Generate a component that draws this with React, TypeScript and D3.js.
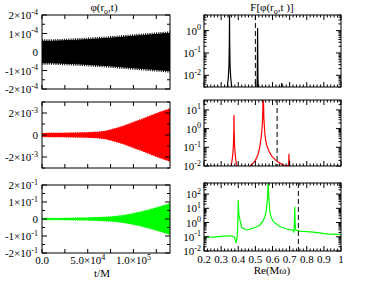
import React from 'react';
import * as d3 from 'd3';

const W = 366;
const H = 283;
const FONT = '"Liberation Serif", "Times New Roman", serif';

// time-domain envelopes (half amplitude of the oscillating band)
const times = [0, 1e4, 2e4, 3e4, 4e4, 5e4, 6e4, 7e4, 8e4, 9e4, 1e5, 1.1e5, 1.2e5, 1.3e5, 1.4e5];
const blackEnv = [0.58e-4, 0.58e-4, 0.6e-4, 0.62e-4, 0.64e-4, 0.67e-4, 0.7e-4, 0.73e-4, 0.77e-4, 0.81e-4, 0.85e-4, 0.89e-4, 0.93e-4, 0.97e-4, 1.01e-4];
const redEnv = [0.12e-3, 0.13e-3, 0.14e-3, 0.15e-3, 0.17e-3, 0.19e-3, 0.23e-3, 0.33e-3, 0.55e-3, 0.8e-3, 1.12e-3, 1.42e-3, 1.75e-3, 2.07e-3, 2.35e-3];
const greenEnv = [0.001, 0.0015, 0.002, 0.003, 0.004, 0.005, 0.007, 0.009, 0.013, 0.02, 0.03, 0.042, 0.056, 0.072, 0.088];

// spectra |F[phi]| vs Re(M omega)
const specBlackW = [0.2, 0.33, 0.335, 0.342, 0.346, 0.348, 0.349, 0.35, 0.352, 0.356, 0.363, 0.4, 0.5, 0.509, 0.511, 0.512, 0.513, 0.514, 0.515, 0.517, 0.6, 0.652, 0.654, 0.656, 0.7, 1.0];
const specBlackA = [0.001, 0.001, 0.0025, 0.008, 0.03, 0.3, 8, 0.3, 0.03, 0.008, 0.0025, 0.001, 0.001, 0.002, 0.01, 0.1, 1.3, 0.1, 0.01, 0.002, 0.001, 0.002, 0.0045, 0.002, 0.001, 0.001];
const specRedW = [0.2, 0.35, 0.355, 0.362, 0.368, 0.372, 0.374, 0.375, 0.376, 0.378, 0.382, 0.388, 0.395, 0.44, 0.46, 0.48, 0.5, 0.515, 0.525, 0.533, 0.538, 0.542, 0.545, 0.546, 0.547, 0.55, 0.555, 0.56, 0.566, 0.58, 0.595, 0.605, 0.62, 0.635, 0.65, 0.67, 0.69, 0.694, 0.695, 0.696, 0.697, 0.698, 0.71, 0.75, 1.0];
const specRedA = [0.005, 0.006, 0.008, 0.015, 0.04, 0.15, 0.8, 5.4, 0.8, 0.15, 0.04, 0.015, 0.008, 0.006, 0.009, 0.012, 0.02, 0.04, 0.09, 0.3, 0.8, 3, 40, 100, 40, 3, 0.6, 0.25, 0.13, 0.06, 0.035, 0.027, 0.02, 0.016, 0.013, 0.011, 0.0105, 0.011, 0.02, 0.045, 0.02, 0.011, 0.009, 0.008, 0.006];
const specGreenW = [0.2, 0.25, 0.3, 0.34, 0.36, 0.375, 0.382, 0.387, 0.39, 0.394, 0.397, 0.399, 0.4, 0.403, 0.41, 0.42, 0.449, 0.488, 0.527, 0.545, 0.556, 0.565, 0.572, 0.575, 0.578, 0.585, 0.595, 0.605, 0.644, 0.683, 0.721, 0.725, 0.728, 0.73, 0.732, 0.735, 0.76, 0.838, 0.916, 1.0];
const specGreenA = [0.09, 0.095, 0.105, 0.115, 0.115, 0.1, 0.07, 0.037, 0.05, 0.12, 0.5, 5, 40, 4, 1.5, 0.45, 0.3, 0.4, 0.68, 1.3, 2.6, 10, 80, 1000, 80, 4.7, 2, 1.16, 0.5, 0.35, 0.29, 0.2, 1.5, 13, 1.2, 0.3, 0.25, 0.21, 0.16, 0.14];

const dashedLines = [0.5, 0.627, 0.751];

const leftX: [number, number] = [42, 170];
const rightX: [number, number] = [204, 341];
const rowsLeft: [number, number][] = [[15, 89], [102, 168], [185, 253]];
const rowsRight: [number, number][] = [[15, 87], [100, 166], [183, 251]];

const supLabel = (base: string, exp: string | null) => (
  <>
    {base}
    {exp !== null && <tspan dy={-4.5} fontSize={8}>{exp}</tspan>}
  </>
);

const sciParts = (v: number): [string, string | null] => {
  if (v === 0) return ['0', null];
  const e = Math.floor(Math.log10(Math.abs(v)) + 1e-9);
  const m = Math.round(v / Math.pow(10, e));
  return [`${m}×10`, `${e}`];
};

type TimeProps = {
  row: [number, number];
  env: number[];
  color: string;
  maxAbs: number;
  majors: number[];
  minors: number[];
  showX: boolean;
  fringe: number;
  id: string;
};

const TimePanel = ({ row, env, color, maxAbs, majors, minors, showX, fringe, id }: TimeProps) => {
  const x = d3.scaleLinear().domain([0, 1.4e5]).range(leftX);
  const y = d3.scaleLinear().domain([-maxAbs, maxAbs]).range([row[1], row[0]]);
  const area = d3.area<number>()
    .x((_, i) => x(times[i]))
    .y0(d => y(-d))
    .y1(d => y(d))
    .curve(d3.curveMonotoneX);
  const xTicks = [0, 2.5e4, 5e4, 7.5e4, 1e5, 1.25e5];
  const xLabels: [number, string, string | null][] = [[0, '0.0', null], [5e4, '5.0×10', '4'], [1e5, '1.0×10', '5']];
  return (
    <g>
      <clipPath id={id}>
        <rect x={leftX[0]} y={row[0]} width={leftX[1] - leftX[0]} height={row[1] - row[0]} />
      </clipPath>
      <g clipPath={`url(#${id})`}>
        {/* serrated outline gives the band its ragged oscillation edge */}
        <path d={area(env) ?? ''} fill="none" stroke={color} strokeWidth={fringe} strokeDasharray="1,1.2" />
        <path d={area(env) ?? ''} fill={color} stroke={color} strokeWidth={1} />
      </g>
      <rect x={leftX[0]} y={row[0]} width={leftX[1] - leftX[0]} height={row[1] - row[0]} fill="none" stroke="#000" strokeWidth={1} />
      {xTicks.map(t => (
        <g key={t}>
          <line x1={x(t)} x2={x(t)} y1={row[1]} y2={row[1] - 4} stroke="#000" />
          <line x1={x(t)} x2={x(t)} y1={row[0]} y2={row[0] + 4} stroke="#000" />
        </g>
      ))}
      {majors.map(v => (
        <g key={'M' + v}>
          <line x1={leftX[0]} x2={leftX[0] + 5} y1={y(v)} y2={y(v)} stroke="#000" />
          <line x1={leftX[1]} x2={leftX[1] - 5} y1={y(v)} y2={y(v)} stroke="#000" />
          <text x={38} y={y(v) + 4} textAnchor="end" fontSize={11}>
            {supLabel(...sciParts(v))}
          </text>
        </g>
      ))}
      {minors.map(v => (
        <g key={'m' + v}>
          <line x1={leftX[0]} x2={leftX[0] + 3} y1={y(v)} y2={y(v)} stroke="#000" />
          <line x1={leftX[1]} x2={leftX[1] - 3} y1={y(v)} y2={y(v)} stroke="#000" />
        </g>
      ))}
      {showX && xLabels.map(([t, b, e]) => (
        <text key={t} x={x(t)} y={row[1] + 11} textAnchor="middle" fontSize={11}>
          {supLabel(b, e)}
        </text>
      ))}
    </g>
  );
};

type SpecProps = {
  row: [number, number];
  w: number[];
  a: number[];
  color: string;
  domain: [number, number];
  dash: number;
  showX: boolean;
  id: string;
};

const SpecPanel = ({ row, w, a, color, domain, dash, showX, id }: SpecProps) => {
  const x = d3.scaleLinear().domain([0.2, 1.0]).range(rightX);
  const y = d3.scaleLog().domain(domain).range([row[1], row[0]]);
  const line = d3.line<number>()
    .x((_, i) => x(w[i]))
    .y(d => y(d));
  const lo = Math.floor(Math.log10(domain[0]));
  const hi = Math.ceil(Math.log10(domain[1]));
  const yTicks: { v: number; major: boolean }[] = [];
  for (let e = lo; e <= hi; e++) {
    for (let k = 1; k <= 9; k++) {
      const v = k * Math.pow(10, e);
      if (v >= domain[0] * 0.999 && v <= domain[1]) yTicks.push({ v, major: k === 1 });
    }
  }
  const xTicks = d3.range(0, 41).map(i => ({ v: 0.2 + i * 0.02, major: i % 5 === 0 }));
  const xLabels = d3.range(2, 11).map(i => i / 10);
  return (
    <g>
      <clipPath id={id}>
        <rect x={rightX[0]} y={row[0]} width={rightX[1] - rightX[0]} height={row[1] - row[0]} />
      </clipPath>
      <g clipPath={`url(#${id})`}>
        <path d={line(a) ?? ''} fill="none" stroke={color} strokeWidth={1.2} />
      </g>
      <line x1={x(dash)} x2={x(dash)} y1={row[0]} y2={row[1]} stroke="#000" strokeWidth={1} strokeDasharray="5,3" />
      <rect x={rightX[0]} y={row[0]} width={rightX[1] - rightX[0]} height={row[1] - row[0]} fill="none" stroke="#000" strokeWidth={1} />
      {xTicks.map(t => {
        const len = t.major ? 5 : 2.5;
        return (
          <g key={'x' + t.v.toFixed(2)}>
            <line x1={x(t.v)} x2={x(t.v)} y1={row[1]} y2={row[1] - len} stroke="#000" />
            <line x1={x(t.v)} x2={x(t.v)} y1={row[0]} y2={row[0] + len} stroke="#000" />
          </g>
        );
      })}
      {yTicks.map(t => {
        const len = t.major ? 5 : 2.5;
        return (
          <g key={'y' + t.v}>
            <line x1={rightX[0]} x2={rightX[0] + len} y1={y(t.v)} y2={y(t.v)} stroke="#000" />
            <line x1={rightX[1]} x2={rightX[1] - len} y1={y(t.v)} y2={y(t.v)} stroke="#000" />
            {t.major && (
              <text x={201} y={y(t.v) + 4} textAnchor="end" fontSize={11}>
                {supLabel('10', `${Math.round(Math.log10(t.v))}`)}
              </text>
            )}
          </g>
        );
      })}
      {showX && xLabels.map(v => (
        <text key={v} x={x(v)} y={row[1] + 12} textAnchor="middle" fontSize={11}>
          {v === 1 ? '1' : v.toFixed(1)}
        </text>
      ))}
    </g>
  );
};

export default function App() {
  return (
    <div style={{ position: 'fixed', left: 0, top: 0, width: W, height: H, background: '#fff' }}>
      <svg width={W} height={H} fontFamily={FONT} style={{ display: 'block' }}>
        <text x={104} y={11} textAnchor="middle" fontSize={11}>
          φ(r<tspan dy={2.5} fontSize={8}>o</tspan><tspan dy={-2.5}>,t)</tspan>
        </text>
        <text x={272} y={11} textAnchor="middle" fontSize={11}>
          F[φ(r<tspan dy={2.5} fontSize={8}>o</tspan><tspan dy={-2.5}>,t )]</tspan>
        </text>

        <TimePanel id="c1" row={rowsLeft[0]} env={blackEnv} color="#000" maxAbs={2e-4} fringe={4}
          majors={[-2e-4, -1e-4, 0, 1e-4, 2e-4]} minors={[-1.5e-4, -0.5e-4, 0.5e-4, 1.5e-4]} showX={false} />
        <TimePanel id="c2" row={rowsLeft[1]} env={redEnv} color="#ff0000" maxAbs={3e-3} fringe={2}
          majors={[-2e-3, 0, 2e-3]} minors={[-3e-3, -1e-3, 1e-3, 3e-3]} showX={false} />
        <TimePanel id="c3" row={rowsLeft[2]} env={greenEnv} color="#00ff00" maxAbs={0.2} fringe={2}
          majors={[-0.2, -0.1, 0, 0.1, 0.2]} minors={[-0.15, -0.05, 0.05, 0.15]} showX={true} />

        <SpecPanel id="s1" row={rowsRight[0]} w={specBlackW} a={specBlackA} color="#000" domain={[3e-3, 5]} dash={dashedLines[0]} showX={false} />
        <SpecPanel id="s2" row={rowsRight[1]} w={specRedW} a={specRedA} color="#ff0000" domain={[0.01, 34]} dash={dashedLines[1]} showX={false} />
        <SpecPanel id="s3" row={rowsRight[2]} w={specGreenW} a={specGreenA} color="#00ff00" domain={[0.01, 600]} dash={dashedLines[2]} showX={true} />

        <text x={102} y={277} textAnchor="middle" fontSize={11}>t/M</text>
        <text x={272} y={274} textAnchor="middle" fontSize={11}>Re(Mω)</text>
      </svg>
    </div>
  );
}
